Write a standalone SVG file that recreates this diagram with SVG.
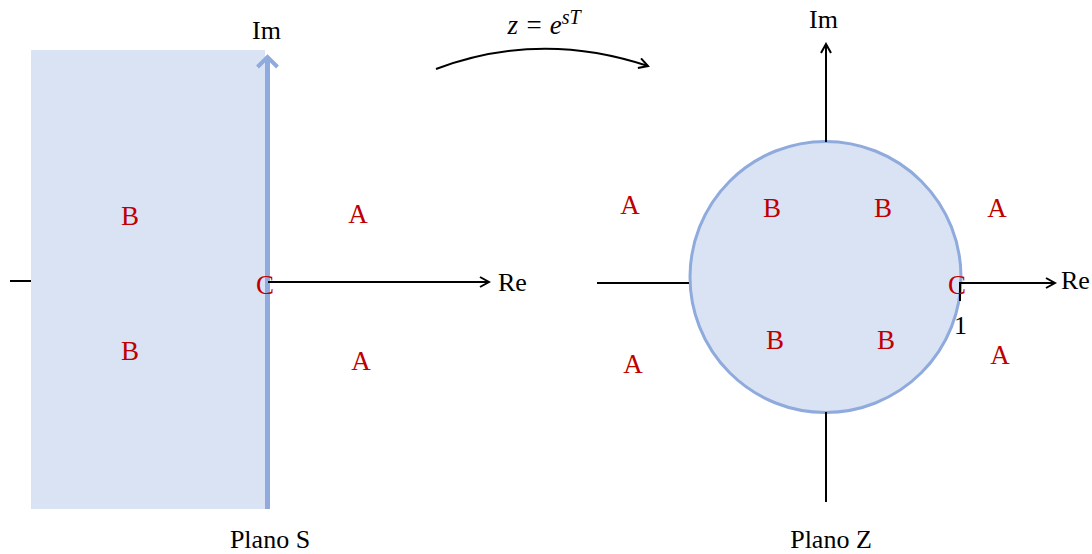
<svg xmlns="http://www.w3.org/2000/svg" width="1092" height="554" viewBox="0 0 1092 554">
<defs>
<style>
.t{font-family:"Liberation Serif","Times New Roman",serif;font-size:26px;fill:#000}
.r{font-family:"Liberation Serif","Times New Roman",serif;font-size:27px;fill:#C00000;text-anchor:middle}
.ax{stroke:#000;stroke-width:2;fill:none}
.m{font-family:"Liberation Serif","Times New Roman",serif;font-style:italic;font-size:27px}
</style>
<marker id="ah" markerWidth="12" markerHeight="12" refX="10" refY="6" orient="auto" markerUnits="userSpaceOnUse">
<path d="M1,1 L10,6 L1,11" fill="none" stroke="#000" stroke-width="2"/>
</marker>
<marker id="bh" markerWidth="22" markerHeight="24" refX="12" refY="12" orient="auto" markerUnits="userSpaceOnUse">
<path d="M2,2 L12,12 L2,22" fill="none" stroke="#8FAADC" stroke-width="4"/>
</marker>
</defs>
<rect width="1092" height="554" fill="#fff"/>
<g id="plane-s">
<rect x="31" y="50" width="234" height="459" fill="#DAE3F3"/>
</g>
<g id="circle-z">
<circle cx="825.5" cy="277" r="135.5" fill="#DAE3F3" stroke="#8FAADC" stroke-width="3"/>
</g>
<g id="connectors">
<line x1="10" y1="281" x2="31" y2="281" class="ax"/>
<line x1="267.5" y1="509" x2="267.5" y2="57" stroke="#8FAADC" stroke-width="5" marker-end="url(#bh)"/>
<line x1="268" y1="282" x2="489" y2="282" class="ax" marker-end="url(#ah)"/>
<path d="M436,69 Q540,30 648,66" class="ax" marker-end="url(#ah)"/>
<line x1="597" y1="283" x2="689" y2="283" class="ax"/>
<line x1="959" y1="283" x2="1055" y2="283" class="ax" marker-end="url(#ah)"/>
<line x1="960" y1="283" x2="960" y2="301" class="ax"/>
<line x1="826" y1="502" x2="826" y2="412" class="ax"/>
<line x1="826" y1="142" x2="826" y2="44" class="ax" marker-end="url(#ah)"/>
</g>
<g id="labels">
<text x="252" y="39" class="t">Im</text>
<text x="498" y="291" class="t">Re</text>
<text x="809" y="28" class="t">Im</text>
<text x="1061" y="289" class="t">Re</text>
<text x="954" y="334" class="t">1</text>
<text x="544" y="34" class="m" text-anchor="middle">z = e<tspan font-size="20" dy="-10">sT</tspan></text>
<text x="270" y="548" class="t" text-anchor="middle">Plano S</text>
<text x="831" y="548" class="t" text-anchor="middle">Plano Z</text>
</g>
<g id="regions">
<text x="130" y="225" class="r">B</text>
<text x="130" y="360" class="r">B</text>
<text x="358" y="223" class="r">A</text>
<text x="361" y="370" class="r">A</text>
<text x="265" y="294" class="r">C</text>
<text x="630" y="214" class="r">A</text>
<text x="772" y="217" class="r">B</text>
<text x="883" y="217" class="r">B</text>
<text x="997" y="217" class="r">A</text>
<text x="633" y="373" class="r">A</text>
<text x="775" y="349" class="r">B</text>
<text x="886" y="349" class="r">B</text>
<text x="1000" y="364" class="r">A</text>
<text x="957" y="294" class="r">C</text>
</g>
</svg>
